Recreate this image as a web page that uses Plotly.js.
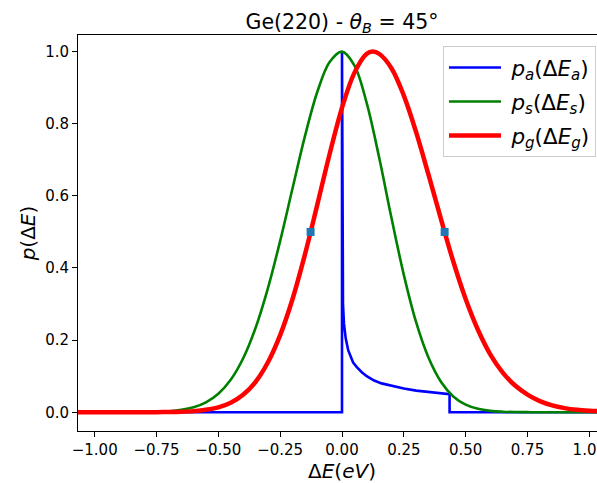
<!DOCTYPE html>
<html>
<head>
<meta charset="utf-8">
<script src="https://cdn.plot.ly/plotly-3.0.1.min.js"></script>
<style>
  html, body { margin: 0; padding: 0; overflow: hidden; background: #fff; }
  #chart { width: 606px; height: 483px; }
</style>
</head>
<body>
<div id="chart"></div>
<script>
// ---- data ----
const xTickVals = [-1.0, -0.75, -0.5, -0.25, 0.0, 0.25, 0.5, 0.75, 1.0];
const yTickVals = [0.0, 0.2, 0.4, 0.6, 0.8, 1.0];

// p_a : asymmetric (blue)
const paX = [-1.1, 0.0, 0.0, 0.0015, 0.004, 0.008, 0.015, 0.025, 0.035, 0.045, 0.06, 0.08, 0.10, 0.13, 0.16, 0.20, 0.25, 0.30, 0.35, 0.40, 0.435, 0.435, 1.1];
const paY = [0.0, 0.0, 1.0, 0.45, 0.30, 0.245, 0.205, 0.172, 0.152, 0.138, 0.125, 0.111, 0.100, 0.088, 0.080, 0.073, 0.066, 0.060, 0.056, 0.052, 0.050, 0.0, 0.0];

// p_s : source (green)
const psX = [-1.1, -1.0, -0.9, -0.8, -0.75, -0.7, -0.65, -0.6, -0.55, -0.5, -0.45, -0.4, -0.35, -0.3, -0.25, -0.2, -0.15, -0.1, -0.05, 0.0,
             0.05, 0.1, 0.15, 0.2, 0.25, 0.3, 0.35, 0.4, 0.45, 0.5, 0.55, 0.6, 0.65, 0.7, 0.75, 0.8, 0.9, 1.0, 1.1];
const psY = [0.0, 0.0, 0.0001, 0.0005, 0.0012, 0.0029, 0.0066, 0.0138, 0.0273, 0.0511, 0.0899, 0.149, 0.233, 0.343, 0.475, 0.621, 0.765, 0.888, 0.971, 1.0,
             0.962, 0.857, 0.707, 0.539, 0.381, 0.249, 0.151, 0.0847, 0.0439, 0.0211, 0.0094, 0.0039, 0.0015, 0.0005, 0.0002, 0.0001, 0.0, 0.0, 0.0];

// p_g : convolution (red)
const pgX = [-1.1, -1.0, -0.9, -0.8, -0.75, -0.7, -0.65, -0.6, -0.55, -0.5, -0.45, -0.4, -0.35, -0.3, -0.25, -0.2, -0.15, -0.1, -0.05, 0.0,
             0.05, 0.1, 0.124, 0.15, 0.2, 0.25, 0.3, 0.35, 0.4, 0.45, 0.5, 0.55, 0.6, 0.65, 0.7, 0.75, 0.8, 0.85, 0.9, 0.95, 1.0, 1.05, 1.1];
const pgY = [0.0, 0.0, 0.0, 0.0001, 0.0002, 0.0006, 0.0014, 0.0031, 0.0067, 0.0137, 0.0265, 0.0484, 0.0838, 0.138, 0.214, 0.314, 0.437, 0.575, 0.716, 0.844,
             0.941, 0.994, 1.0, 0.994, 0.954, 0.878, 0.776, 0.658, 0.536, 0.418, 0.314, 0.228, 0.160, 0.110, 0.074, 0.049, 0.031, 0.019, 0.0115, 0.0068, 0.0042, 0.0026, 0.0016];

// half-maximum markers
const fwhmX = [-0.127, 0.415];
const fwhmY = [0.5, 0.5];

const FONT = 'DejaVu Sans, sans-serif';
const PAD = '\u2005';

const traces = [
  { x: paX, y: paY, type: 'scatter', mode: 'lines', name: PAD + '<i>p</i><sub><i>a</i></sub>(Δ<i>E</i><sub><i>a</i></sub>)',
    legendgroup: 'a', line: { color: '#0000ff', width: 2.6 } },
  { x: psX, y: psY, type: 'scatter', mode: 'lines', name: PAD + '<i>p</i><sub><i>s</i></sub>(Δ<i>E</i><sub><i>s</i></sub>)',
    legendgroup: 's', line: { color: '#008000', width: 2.6, shape: 'spline', smoothing: 1.0 } },
  { x: pgX, y: pgY, type: 'scatter', mode: 'lines', name: PAD + '<i>p</i><sub><i>g</i></sub>(Δ<i>E</i><sub><i>g</i></sub>)',
    legendgroup: 'g', line: { color: '#ff0000', width: 4.5, shape: 'spline', smoothing: 1.0 } },
  { x: fwhmX, y: fwhmY, type: 'scatter', mode: 'markers', showlegend: false,
    marker: { symbol: 'square', size: 8, color: '#1f77b4' } }
];

const axisCommon = {
  showgrid: false, zeroline: false, showline: true, mirror: true,
  linecolor: '#000', linewidth: 1, ticks: 'outside', ticklen: 5, tickwidth: 1, tickcolor: '#000',
  tickfont: { family: FONT, size: 15, color: '#000' }, ticklabeloverflow: 'allow'
};

const layout = {
  width: 606, height: 483,
  margin: { l: 78, r: 0, t: 35, b: 52 },
  paper_bgcolor: '#fff', plot_bgcolor: '#fff',
  font: { family: FONT, color: '#000' },
  title: { text: 'Ge(220) - <i>θ</i><sub><i>B</i></sub> = 45°', font: { family: FONT, size: 20.5, color: '#000' },
           x: 0.5, xref: 'paper', y: 1, yref: 'paper', yanchor: 'bottom', pad: { b: 6 } },
  xaxis: Object.assign({}, axisCommon, {
    range: [-1.0675, 1.0675], tickvals: xTickVals, tickformat: '.2f',
    title: { text: 'Δ<i>E</i>(<i>eV</i>)', font: { family: FONT, size: 20, color: '#000' }, standoff: 0 },
    automargin: true
  }),
  yaxis: Object.assign({}, axisCommon, {
    range: [-0.052, 1.046], tickvals: yTickVals, tickformat: '.1f',
    title: { text: '<i>p</i>(Δ<i>E</i>)', font: { family: FONT, size: 20, color: '#000' }, standoff: 4 },
    automargin: true
  }),
  legend: {
    x: 0.6913, xanchor: 'left', y: 0.972, yanchor: 'top',
    bgcolor: 'rgba(255,255,255,0.8)', bordercolor: '#cccccc', borderwidth: 1,
    font: { family: FONT, size: 21.5, color: '#000' }, itemwidth: 52, tracegroupgap: 3
  },
  showlegend: true
};

Plotly.newPlot('chart', traces, layout, { displayModeBar: false, staticPlot: true });
</script>
</body>
</html>
